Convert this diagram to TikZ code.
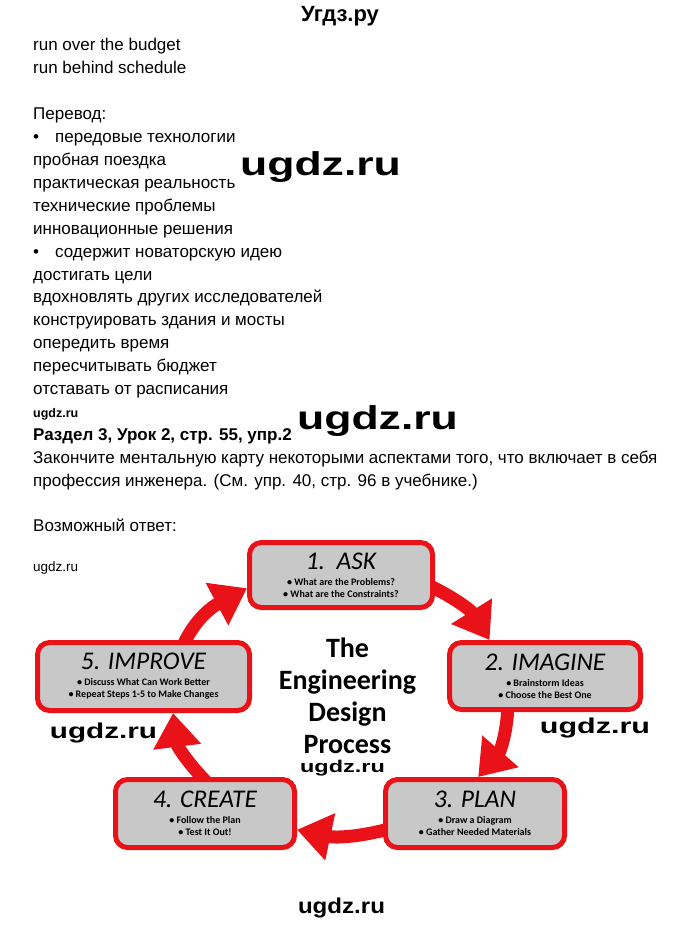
\documentclass[tikz,border=0pt]{standalone}
\usepackage{fontspec}
\usepackage{graphicx}
\setmainfont{Liberation Sans}
\newfontfamily\carl{Carlito}
\usetikzlibrary{arrows.meta,backgrounds}
\definecolor{cycred}{RGB}{232,18,24}
\definecolor{boxgray}{RGB}{200,200,200}
\newcommand\bul{\makebox[22pt][l]{•}}
\newcommand\ttl{\fontsize{25.5}{25.5}\selectfont\mdseries\itshape}
\newcommand\wm[3]{\fontsize{#1}{#1}\selectfont\scalebox{#2}[1]{#3}}

\begin{document}
\begin{tikzpicture}[x=1pt,y=1pt,
    bodyline/.style={anchor=base west,inner sep=0pt,font=\fontsize{17}{20}\selectfont},
    wmark/.style={inner sep=0pt,font=\bfseries},
    stepbox/.style={draw=cycred,fill=boxgray,line width=5pt,rounded corners=12pt,
        align=center,inner sep=0pt,font=\carl\bfseries\fontsize{10}{12}\selectfont},
    cycarrow/.style={draw=cycred,line width=13pt,-{Triangle[length=34pt,width=46pt]}}]
    \useasboundingbox (0,0) rectangle (680,-925);
    % page text
    \node[wmark] (head) at (340,-16) {\fontsize{22}{22}\selectfont Угдз.ру};
    \foreach \i/\txt in {0/run over the budget, 1/run behind schedule, 3/Перевод:,
        4/\bul передовые технологии, 5/пробная поездка, 6/практическая реальность,
        7/технические проблемы, 8/инновационные решения, 9/\bul содержит новаторскую идею,
        10/достигать цели, 11/вдохновлять других исследователей, 12/конструировать здания и мосты,
        13/опередить время, 14/пересчитывать бюджет, 15/отставать от расписания,
        18/{Закончите ментальную карту некоторыми аспектами того, что включает в себя},
        19/{профессия инженера. (См. упр. 40, стр. 96 в учебнике.)}, 21/Возможный ответ:}
        \node[bodyline] (line\i) at (33,{-51-22.9*\i}) {\txt};
    \node[bodyline,font=\bfseries\fontsize{12.5}{14}\selectfont] (line16) at (33,{-51-22.9*16}) {ugdz.ru};
    \node[bodyline,font=\bfseries\fontsize{17}{20}\selectfont] (line17) at (33,{-51-22.9*17}) {Раздел 3, Урок 2, стр. 55, упр.2};
    \node[bodyline,font=\fontsize{13.5}{14}\selectfont] (line22) at (33,-571) {ugdz.ru};
    % design cycle
    \node[stepbox,minimum width=183pt,minimum height=65pt] (ask) at (341,-575)
        {{\ttl 1.\ \ ASK}\\[4pt]• What are the Problems?\\• What are the Constraints?};
    \node[stepbox,minimum width=191pt,minimum height=67pt] (imagine) at (545,-676)
        {{\ttl 2. IMAGINE}\\[4pt]• Brainstorm Ideas\\• Choose the Best One};
    \node[stepbox,minimum width=179pt,minimum height=68pt] (plan) at (475,-813.5)
        {{\ttl 3. PLAN}\\[4pt]• Draw a Diagram\\• Gather Needed Materials};
    \node[stepbox,minimum width=179pt,minimum height=68pt] (create) at (205,-813.5)
        {{\ttl 4. CREATE}\\[4pt]• Follow the Plan\\• Test It Out!};
    \node[stepbox,minimum width=212pt,minimum height=68pt] (improve) at (143.5,-676.5)
        {{\ttl 5. IMPROVE}\\[4pt]• Discuss What Can Work Better\\• Repeat Steps 1-5 to Make Changes};
    \node[align=center,inner sep=0pt,font=\carl\bfseries\fontsize{28}{32}\selectfont] (edp) at (347.5,-696)
        {The\\Engineering\\Design\\Process};
    \begin{scope}[on background layer]
        \draw[cycarrow] ([shift={(83,-8)}]ask.center) to[out=-25,in=122] (imagine.147);
        \draw[cycarrow] ([shift={(-37,-24)}]imagine.center) to[out=-90,in=49] (plan.85);
        \draw[cycarrow] ([shift={(-77,-13)}]plan.center) to[out=196,in=-12] (create.-10);
        \draw[cycarrow] ([shift={(6,27)}]create.center) to[out=136,in=-83] (improve.-51);
        \draw[cycarrow] ([shift={(28,-23)}]improve.center) to[out=90,in=208] (ask.188);
    \end{scope}
    % watermarks
    \node[wmark] (wmA) at (320.5,-167.5) {\wm{33}{1.35}{ugdz.ru}};
    \node[wmark] (wmB) at (377.5,-421.5) {\wm{33}{1.35}{ugdz.ru}};
    \node[wmark] (wmC) at (103.5,-733) {\wm{21.5}{1.38}{ugdz.ru}};
    \node[wmark] (wmD) at (595,-728) {\wm{21.5}{1.42}{ugdz.ru}};
    \node[wmark] (wmE) at (342.5,-768) {\wm{17}{1.38}{ugdz.ru}};
    \node[wmark] (wmF) at (341.5,-908) {\wm{21.5}{1.12}{ugdz.ru}};
\end{tikzpicture}
\end{document}
